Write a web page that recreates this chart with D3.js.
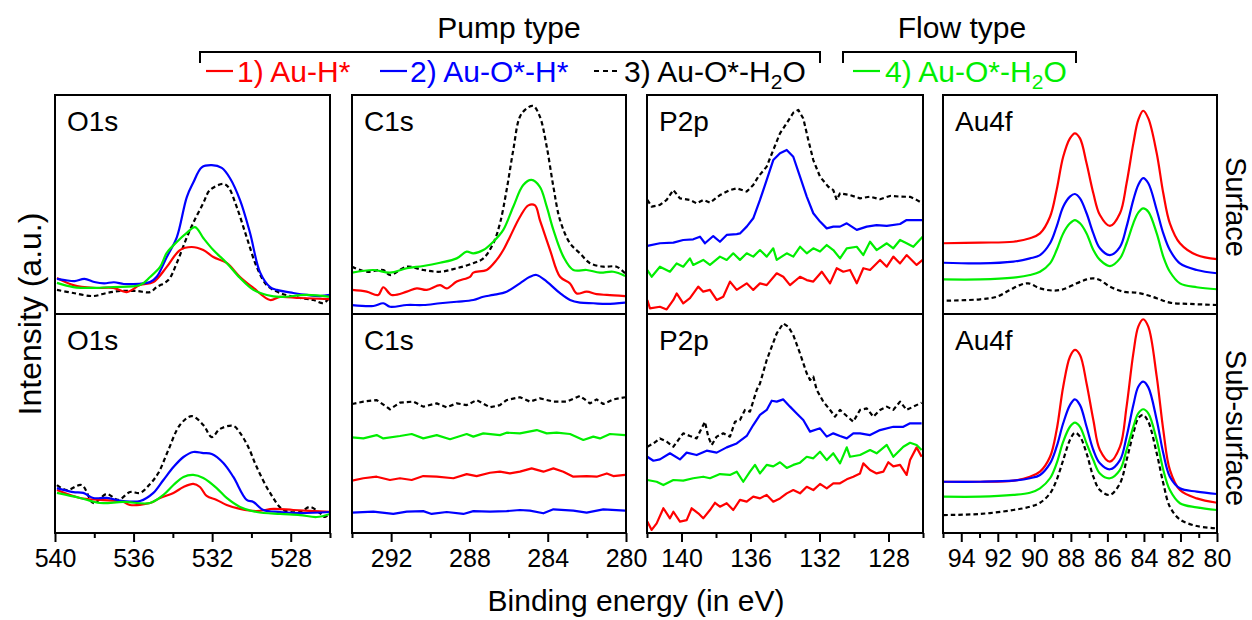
<!DOCTYPE html>
<html><head><meta charset="utf-8">
<script src="https://cdn.jsdelivr.net/npm/d3@7"></script>
<style>body{margin:0;background:#fff}svg{display:block}text{font-family:"Liberation Sans",Arial,Helvetica,sans-serif}</style>
</head><body><svg id="c" width="1252" height="620"></svg>
<script>
// ---------- DATA (binding energy eV, intensity a.u. 0-100 of panel) ----------
const panelNames = ["O1s","C1s","P2p","Au4f"];
const rowNames = ["Surface","Sub-surface"];
const seriesNames = ["1) Au-H*","2) Au-O*-H*","3) Au-O*-H2O","4) Au-O*-H2O"];
const o1sMajor=[540,536,532,528], o1sMinor=[538,534,530,526];
const c1sMajor=[292,288,284,280], c1sMinor=[294,290,286,282];
const p2pMajor=[140,136,132,128], p2pMinor=[142,138,134,130,126];
const au4fMajor=[94,92,90,88,86,84,82,80], au4fMinor=[95,93,91,89,87,85,83,81];

const O1s_S_red=[[539.9,16.4],[539.07,13.2],[538.05,11.9],[537.03,11.9],[536.35,10],[535.67,13.2],[534.99,14.6],[534.31,21.5],[533.64,29.2],[533.04,30.6],[532.45,29.2],[531.94,26],[531.26,23.3],[530.58,16.9],[529.9,11.9],[529.05,6.4],[528.54,7.8],[527.53,7.3],[526,6.8]];
const O1s_S_blue=[[539.9,16],[539.5,15.5],[539,15],[538.5,16],[538,14.6],[537.5,14],[537,14.5],[536.5,13.7],[536,13.7],[535.5,14],[535.16,14.6],[534.82,17],[534.31,26],[533.8,35],[533.29,53.4],[532.96,60],[532.53,67],[532.02,68],[531.51,66.7],[531.09,62],[530.58,52],[530.07,37],[529.56,19],[529.05,12.3],[528.71,11],[527.87,9.6],[527.18,8.7],[526.5,8.2],[526,8.7]];
const O1s_S_black=[[539.9,11],[539.07,9.6],[538.05,8.2],[537.37,9.6],[536.69,10.5],[535.84,10.5],[535.16,10],[534.82,12.3],[534.23,15.5],[533.8,23.3],[533.29,35],[532.96,41.6],[532.45,50.7],[532.11,56.6],[531.43,59.4],[531.18,58],[530.75,48.9],[530.24,35],[529.73,21.5],[529.22,13.2],[528.54,9.6],[527.53,7.3],[526.85,6.4],[526.34,5],[526,7.8]];
const O1s_S_green=[[539.9,14.2],[539.07,12.3],[538.05,11.9],[537.03,12.3],[535.67,13.2],[535.16,16.9],[534.65,21.5],[534.31,27.9],[533.8,32.9],[533.29,37],[532.87,39.7],[532.45,34.7],[531.94,29.2],[531.26,23.3],[530.58,16.4],[529.9,11],[529.22,8.7],[528.54,7.8],[527.18,8.7],[526,7.8]];

const O1s_B_red=[[539.9,19.6],[538.73,16],[537.71,15.1],[536.52,14.2],[536.18,12.8],[535.16,13.7],[534.65,16],[533.97,18.3],[533.46,21],[532.96,22.4],[532.62,21],[532.28,16.9],[531.77,15.1],[531.26,12.8],[530.58,11],[529.73,10],[528.88,11],[527.87,10.5],[526,9.6]];
const O1s_B_blue=[[539.9,20.5],[539.07,18.7],[538.56,18.3],[538.05,16],[537.37,16],[536.52,14.6],[535.67,14.6],[534.99,18.3],[534.48,24.2],[533.97,30.1],[533.46,34.7],[532.96,37],[532.45,36.5],[532.02,36.1],[531.43,32],[530.92,25.6],[530.24,15.1],[529.9,14.2],[529.39,10.5],[528.54,9.6],[527.53,9.1],[526,9.6]];
const O1s_B_black=[[539.9,21.9],[539.4,19.6],[538.64,21.9],[538.05,13.7],[537.37,17.8],[536.78,15.1],[536.18,18.7],[535.67,18.3],[535.16,22.4],[534.74,27.4],[534.23,37.9],[533.64,49.3],[533.04,53.4],[532.45,49.3],[532.02,43.8],[531.6,47.5],[530.92,48.9],[530.58,45.7],[530.16,39.3],[529.73,30.1],[529.05,18.3],[528.37,10.5],[527.53,9.6],[527.02,11.9],[526.51,9.1],[526.25,7.3],[526,9.6]];
const O1s_B_green=[[539.9,18.3],[538.73,16],[537.71,13.7],[536.52,14.2],[535.16,13.7],[534.48,17.4],[533.97,21.9],[533.46,25.6],[532.96,26.5],[532.45,25.1],[531.77,20.5],[531.26,16],[530.58,11.9],[529.73,9.6],[528.54,8.7],[527.53,8.2],[526.68,7.3],[526,8.7]];

const C1s_S_red=[[294,11],[293.25,10.2],[292.66,8.7],[292.4,12.2],[291.98,8.7],[291.2,10.2],[290.69,11.7],[290.18,11],[289.5,13.2],[289.16,11.7],[288.65,14.8],[287.97,17],[287.8,18.9],[287.12,20.1],[286.61,24.7],[286.27,29.2],[285.93,35.2],[285.42,44.3],[284.99,49.6],[284.65,49.6],[284.4,42.9],[283.88,29.2],[283.37,17],[282.86,13.9],[282.52,9.4],[282.01,10.2],[281.5,9.1],[280.98,8.7],[280.05,8.2]];
const C1s_S_blue=[[294,4.1],[292.91,3.65],[292.4,4.9],[292.06,3.3],[291.2,4.1],[290.36,4.1],[289.5,4.9],[288.65,5.6],[287.8,6.4],[287.29,7.9],[286.78,8.7],[286.1,10.2],[285.42,14],[284.91,17],[284.57,17.8],[284.05,14.8],[283.37,9.5],[282.86,6.4],[282.35,5.2],[281.67,4.9],[280.98,4.6],[280.05,5.2]];
const C1s_S_black=[[294,21.6],[293.25,19.3],[292.4,20.1],[292.06,17.8],[291.2,21.6],[290.36,20.1],[289.5,19.3],[288.65,20.9],[287.8,23.2],[287.29,25.4],[286.78,32.3],[286.44,41.4],[286.1,56.6],[285.76,74.9],[285.42,90.1],[285.07,93.9],[284.74,95],[284.4,90.1],[284.05,76.4],[283.71,58.1],[283.37,42.9],[282.86,32.3],[282.35,27.7],[281.84,23.2],[281.16,21.6],[280.48,21.6],[280.05,18.6]];
const C1s_S_green=[[294,18.9],[292.91,20.1],[292.06,18.9],[291.2,20.9],[290.36,21.9],[289.5,23.4],[288.65,25.4],[288.14,28.5],[287.8,27.7],[287.29,29.2],[286.78,33],[286.27,38.4],[285.76,49],[285.25,58.9],[284.83,61.2],[284.4,58.1],[284.05,49],[283.71,38.4],[283.2,26.2],[282.69,20.1],[282.01,20.1],[281.33,18.9],[280.65,19.3],[280.05,17.4]];

const C1s_B_red=[[294,23.9],[293.42,25],[292.74,25.7],[292.06,24.2],[291.55,25],[290.95,24.2],[290.36,26],[289.67,25.7],[288.82,25],[288.14,26.9],[287.63,26],[286.95,27.5],[286.44,28],[285.93,27.2],[285.42,28],[284.82,29.5],[284.22,28],[283.71,29.5],[283.2,28],[282.69,25.7],[282.01,26],[281.5,25.7],[280.98,27.2],[280.65,26],[280.05,26.5]];
const C1s_B_blue=[[294,9.3],[292.91,9.75],[291.89,8.7],[291.2,9.75],[290.36,10],[289.93,8.7],[289.16,9.6],[288.31,8.7],[287.8,10],[286.95,9.75],[286.1,10],[285.42,10.5],[284.91,10.2],[284.22,9],[283.71,10.8],[282.69,10.2],[282.01,9.3],[281.16,10.8],[280.05,10.2]];
const C1s_B_black=[[294,58.9],[293.42,60],[292.74,60.7],[292.06,56.5],[291.55,59.5],[290.87,60],[290.36,57.7],[289.67,59.2],[289.16,57.4],[288.65,59.2],[288.14,58.4],[287.63,60.7],[286.95,57.4],[286.44,58.4],[286.1,60.7],[285.42,62],[284.91,60],[284.4,61.5],[283.71,60],[283.03,60],[282.35,62.6],[281.84,59.2],[281.5,61],[281.16,58.9],[280.65,61],[280.05,62]];
const C1s_B_green=[[294,43.7],[293.42,43.2],[292.74,44.7],[292.4,43.2],[291.55,44.3],[290.95,45.2],[290.36,43.2],[289.67,44.7],[288.99,42.8],[288.14,45.2],[287.8,44],[287.29,45.5],[286.44,44.7],[286.1,45.8],[285.42,45.5],[284.56,47],[284.05,45.5],[283.54,45.8],[282.86,45.2],[282.18,42.5],[281.67,44],[281.33,43.2],[280.82,45.2],[280.05,44.7]];

const P2p_S_red=[[141.98,6.4],[141.83,2.6],[141.25,3.3],[140.86,2.1],[140.47,6.4],[140.28,9.4],[139.9,4.9],[139.51,7.2],[139.03,12.5],[138.74,10.2],[138.35,11],[137.96,6.4],[137.58,7.9],[137.19,14.8],[136.8,11],[136.22,14],[135.84,11],[135.45,14],[135.06,13.2],[134.48,18.6],[134.1,17],[133.71,13.2],[133.13,17],[132.74,15.5],[132.36,14.8],[131.87,19.3],[131.39,14],[131,20.9],[130.62,19.3],[130.23,20.1],[129.84,14],[129.46,20.9],[129.07,20.1],[128.49,24.7],[128.1,21.6],[127.72,26.2],[127.33,23.1],[126.95,26.9],[126.37,22.4],[126.02,24.7]];
const P2p_S_blue=[[141.98,31.1],[141.25,32.3],[140.47,32.6],[139.9,33.8],[139.32,34.1],[138.93,35.3],[138.64,32.3],[138.16,35.6],[137.77,33],[137.38,36.1],[136.8,36.5],[136.61,36.8],[136.22,39.9],[135.84,43.7],[135.45,52.1],[135.06,61.2],[134.68,70.3],[134.29,73.4],[133.9,74.9],[133.52,71.8],[133.13,62.7],[132.74,53.6],[132.36,46],[131.97,42.2],[131.58,39.1],[131.2,39.9],[130.81,39.9],[130.42,41.4],[129.84,38.4],[129.26,39.9],[128.69,40.6],[128.1,40.2],[127.33,41.1],[126.95,42.9],[126.02,42.9]];
const P2p_S_black=[[141.98,52.1],[141.73,49],[141.25,49.8],[140.86,52.1],[140.47,56.6],[140.09,52.8],[139.51,52.1],[139.12,50.5],[138.74,52.1],[138.35,50.8],[137.77,54.3],[137.19,56.6],[136.8,57.4],[136.22,55.9],[135.84,58.9],[135.55,62.7],[135.06,67.3],[134.68,74.9],[134.29,82.5],[133.9,87.1],[133.52,91.9],[133.23,93.2],[132.94,89.3],[132.65,79.5],[132.36,70.3],[131.97,62.7],[131.49,58.1],[131.2,56.6],[131,52.1],[130.81,55.1],[130.23,54.3],[129.65,52.8],[129.07,53.6],[128.49,52.4],[127.91,53.9],[127.33,53.6],[126.75,53.5],[126.37,52.1],[126.02,50.5]];
const P2p_S_green=[[141.98,20.1],[141.73,17],[141.25,21.6],[140.67,19.3],[140.28,23.1],[139.9,21.6],[139.51,25.4],[139.32,22.4],[138.74,24.7],[138.35,22.4],[137.77,26.2],[137.38,24.7],[137,27.7],[136.61,24.7],[136.22,27.7],[135.84,26.2],[135.45,29.2],[135.06,26.2],[134.68,30],[134.48,24.7],[133.9,27.7],[133.52,26.2],[133.13,30.7],[132.74,27.7],[132.36,30],[131.97,28.5],[131.58,31.5],[131.2,29.2],[130.81,25.4],[130.42,30],[129.84,30.7],[129.46,26.9],[129.07,33],[128.69,29.2],[128.1,32.3],[127.72,30],[127.33,33.8],[126.95,32.3],[126.56,30.7],[126.02,35.3]];

const P2p_B_red=[[141.98,5.2],[141.73,1.4],[141.44,4.4],[141.05,11.3],[140.67,6.7],[140.47,9.7],[140.09,5.2],[139.7,5.9],[139.41,11.3],[139.03,9],[138.74,6.7],[138.35,10.5],[138.06,13.8],[137.77,12],[137.38,13.6],[137,10.5],[136.61,15.1],[136.22,14.3],[135.84,16.6],[135.45,15.8],[135.06,17.4],[134.68,14.3],[134.29,15.8],[133.9,18.1],[133.52,19.6],[133.13,18.1],[132.74,21.1],[132.36,19.6],[131.97,22.4],[131.58,20.4],[131.2,22.7],[130.81,22.7],[130.42,24.5],[130.04,25.7],[129.65,27.2],[129.46,31.8],[129.07,28.8],[128.69,27.2],[128.3,28],[128.01,32.3],[127.72,30.4],[127.33,31.1],[126.95,26.5],[126.75,33.3],[126.37,39.1],[126.08,34.8]];
const P2p_B_blue=[[141.98,34.8],[141.63,33],[141.25,33.6],[140.67,36.4],[140.09,33.6],[139.7,36.7],[139.12,35.6],[138.54,37.6],[137.96,36.7],[137.38,39.1],[136.8,40.9],[136.22,44.3],[135.84,49.3],[135.45,53.9],[135.06,56.2],[134.77,60.4],[134.48,60],[134.1,61],[133.71,57.7],[133.32,54.6],[132.94,51.6],[132.55,46.3],[131.97,47.8],[131.58,44],[131.2,45.5],[130.81,44.3],[130.42,43.2],[130.04,45.5],[129.65,45.5],[129.07,44.7],[128.49,47],[127.72,48.5],[127.14,48.5],[126.75,50.1],[126.08,50.1]];
const P2p_B_black=[[141.98,39.4],[141.63,40.9],[141.25,43.2],[140.86,41.7],[140.47,39.4],[140.18,42.5],[139.9,45.5],[139.51,44.3],[139.12,43.2],[138.93,46.3],[138.64,50.8],[138.45,44],[138.25,40.2],[137.96,44],[137.58,45.5],[137.19,44],[136.9,50.8],[136.61,51.6],[136.32,56.2],[136.03,55.4],[135.64,65.3],[135.45,68.3],[135.06,79],[134.77,85.1],[134.48,91.2],[134.1,95.7],[133.81,94.2],[133.52,90.4],[133.13,82],[132.74,72.9],[132.55,69.9],[132.36,71.4],[132.16,65.3],[131.78,60],[131.39,56.2],[131.1,53.1],[130.81,56.2],[130.42,53.4],[130.04,50.8],[129.65,56.2],[129.26,56.9],[128.88,53.1],[128.49,56.2],[128.1,57.7],[127.72,56.2],[127.33,60],[126.95,56.2],[126.56,57.7],[126.08,59.5]];
const P2p_B_green=[[141.98,24.2],[141.44,23.4],[141.05,21.9],[140.47,24.2],[139.9,23.9],[139.32,25],[138.74,25.7],[138.35,25],[137.77,26.9],[137.19,26.5],[136.8,28],[136.42,23.4],[136.03,28],[135.74,31.1],[135.45,27.2],[135.06,31.1],[134.68,30.4],[134.29,32.3],[133.9,29.7],[133.52,31.1],[133.13,32.1],[132.74,34.8],[132.36,34.1],[131.97,37.1],[131.58,33.3],[131.2,36.4],[130.81,31.8],[130.42,39.1],[130.23,34.8],[129.65,35.6],[129.07,37.9],[128.69,36.4],[128.1,40.2],[127.72,34.8],[127.14,39.4],[126.75,41.2],[126.37,40.2],[126.08,37.9]];

const au4fE=[94.98,92.97,91.15,90.24,89.69,89.14,88.78,88.42,88.05,87.78,87.5,87.14,86.77,86.41,85.86,85.31,84.95,84.58,84.31,84.04,83.76,83.3,82.94,82.58,82.03,81.11,79.99];
const Au4f_S_red=[32.3,32.6,33,34.6,36.8,44.4,56.6,71.8,80.2,82.5,80.2,68.8,55.1,45.2,40.2,46,59.7,77.9,88.6,92.8,89.3,73.4,55.1,41.4,32.3,26.9,25];
const Au4f_S_blue=[23.4,23.1,23.9,25.4,26.9,32.3,39.9,49,53.6,54.8,52.8,46,36.8,30,26.9,30.7,39.9,52.1,58.9,62,59.7,47.5,36.8,29.2,23.1,20.1,18.6];
const Au4f_S_green=[15.8,15.8,16.6,17.8,19.3,23.1,29.2,36.8,41.4,42.9,41.4,36.8,29.2,24.7,21.9,25.4,32.3,41.4,46.3,48.2,46.7,36.8,26.2,19.3,14,12.2,11.3];
const Au4f_S_black=[[94.8,6.1],[92.97,6.7],[92.06,7.9],[91.33,11],[90.79,13.2],[90.33,14],[89.69,11.7],[88.96,10.7],[88.42,11.3],[87.68,14],[87.14,15.8],[86.77,16.3],[86.41,15.5],[85.86,12.5],[85.13,10.2],[84.4,9.7],[83.85,8.7],[83.3,7.2],[82.58,5.2],[81.48,4.6],[79.99,4.1]];
const Au4f_B_red=[23.4,23.4,23.9,25.7,28,34.8,47,66.8,80.5,83.6,81.3,68.3,51.6,37.9,32.6,39.4,57.7,82,94.2,97.6,94.2,71.4,47,28.8,19.6,15.8,13.8];
const Au4f_B_blue=[23.4,23.4,23.9,25,26.5,31.8,39.4,50.1,58.4,61,58.4,48.5,37.9,31.8,29.1,33.3,44,58.4,66.8,69.1,66.5,51.6,36.4,25.7,20.4,18.9,17.8];
const Au4f_B_green=[16.6,16.6,17.4,18.4,20.4,25,31.8,41.7,48.5,50.4,48.5,40.9,33.3,27.2,25,28.8,37.9,48.5,54.6,56.5,54.6,42.5,28.8,19.6,13.6,11.7,10.5];
const Au4f_B_black=[8.2,8.7,10.5,12,13.8,18.1,24.2,33.3,42.5,45.8,44,36.4,25.7,19.6,17.4,22.7,33.3,45.5,52.4,53.9,50.8,36.4,22.7,12,6.2,3.2,2.1];

// ---------- BUILD ----------
const zipE = v => au4fE.map((e,i)=>[e,v[i]]);
const colors = {red:"#ff0000", blue:"#0000ff", black:"#000000", green:"#00ee00"};
const panels = [
  {col:0,row:0,smooth:true,label:"O1s",s:{black:O1s_S_black,red:O1s_S_red,blue:O1s_S_blue,green:O1s_S_green}},
  {col:1,row:0,smooth:true,label:"C1s",s:{black:C1s_S_black,red:C1s_S_red,blue:C1s_S_blue,green:C1s_S_green}},
  {col:2,row:0,smooth:false,label:"P2p",s:{black:P2p_S_black,red:P2p_S_red,blue:P2p_S_blue,green:P2p_S_green}},
  {col:3,row:0,smooth:true,label:"Au4f",s:{black:Au4f_S_black,red:zipE(Au4f_S_red),blue:zipE(Au4f_S_blue),green:zipE(Au4f_S_green)}},
  {col:0,row:1,smooth:true,label:"O1s",s:{black:O1s_B_black,red:O1s_B_red,blue:O1s_B_blue,green:O1s_B_green}},
  {col:1,row:1,smooth:false,label:"C1s",s:{black:C1s_B_black,red:C1s_B_red,blue:C1s_B_blue,green:C1s_B_green}},
  {col:2,row:1,smooth:false,label:"P2p",s:{black:P2p_B_black,red:P2p_B_red,blue:P2p_B_blue,green:P2p_B_green}},
  {col:3,row:1,smooth:true,label:"Au4f",s:{black:zipE(Au4f_B_black),red:zipE(Au4f_B_red),blue:zipE(Au4f_B_blue),green:zipE(Au4f_B_green)}}
];
const colX=[[55,330],[352,626],[647,923],[943,1217]];
const rowY=[[95,314],[314,533]];
const domains=[[540,526],[294,280],[142,126],[95,80]];
const majors=[o1sMajor,c1sMajor,p2pMajor,au4fMajor];
const minors=[o1sMinor,c1sMinor,p2pMinor,au4fMinor];

const svg=d3.select("#c");
svg.append("rect").attr("width",1252).attr("height",620).attr("fill","#fff");
const defs=svg.append("defs");

panels.forEach((p,i)=>{
  const [x0,x1]=colX[p.col],[y0,y1]=rowY[p.row];
  const x=d3.scaleLinear().domain(domains[p.col]).range([x0,x1]);
  const y=d3.scaleLinear().domain([0,100]).range([y1,y0]);
  defs.append("clipPath").attr("id","cp"+i).append("rect").attr("x",x0).attr("y",y0).attr("width",x1-x0).attr("height",y1-y0);
  const g=svg.append("g");
  const line=d3.line().x(d=>x(d[0])).y(d=>y(d[1])).curve(p.smooth?d3.curveCatmullRom.alpha(0.5):d3.curveLinear);
  const lg=g.append("g").attr("clip-path",`url(#cp${i})`);
  ["black","red","blue","green"].forEach(k=>{
    lg.append("path").datum(p.s[k]).attr("d",line).attr("fill","none")
      .attr("stroke",colors[k]).attr("stroke-width",2.2).attr("stroke-linejoin","round")
      .attr("stroke-dasharray",k==="black"?"4.5,3":null);
  });
  g.append("rect").attr("x",x0).attr("y",y0).attr("width",x1-x0).attr("height",y1-y0)
    .attr("fill","none").attr("stroke","#000").attr("stroke-width",2);
  g.append("text").attr("x",x0+12).attr("y",y0+36).attr("font-size",28).text(p.label);
  if(p.row===1){
    const ax=g.append("g").attr("transform",`translate(0,${y1})`)
      .call(d3.axisBottom(x).tickValues(majors[p.col]).tickSize(9).tickPadding(7).tickFormat(d3.format("d")));
    ax.select(".domain").remove();
    ax.attr("font-family",null);
    ax.selectAll("line").attr("stroke-width",2);
    ax.selectAll("text").attr("font-size",25).attr("fill","#000");
    const mx=g.append("g").attr("transform",`translate(0,${y1})`)
      .call(d3.axisBottom(x).tickValues(minors[p.col]).tickSize(5).tickFormat(""));
    mx.select(".domain").remove();
    mx.selectAll("line").attr("stroke-width",2);
  }
});

// titles & brackets
svg.append("text").attr("x",509).attr("y",38).attr("text-anchor","middle").attr("font-size",30).text("Pump type");
svg.append("text").attr("x",962).attr("y",38).attr("text-anchor","middle").attr("font-size",30).text("Flow type");
svg.append("path").attr("d","M200,63V52H820V63").attr("fill","none").attr("stroke","#000").attr("stroke-width",2);
svg.append("path").attr("d","M843,63V52H1076V63").attr("fill","none").attr("stroke","#000").attr("stroke-width",2);

// legend
const leg=[{k:"red",lx:206,tx:237},{k:"blue",lx:380,tx:410},{k:"black",lx:594,tx:624},{k:"green",lx:853,tx:885}];
leg.forEach((l,i)=>{
  svg.append("line").attr("x1",l.lx).attr("x2",l.lx+27).attr("y1",71).attr("y2",71)
    .attr("stroke",colors[l.k]).attr("stroke-width",2.2).attr("stroke-dasharray",l.k==="black"?"5,4":null);
  const t=svg.append("text").attr("x",l.tx).attr("y",82).attr("font-size",30).attr("fill",colors[l.k]);
  const name=seriesNames[i];
  const m=name.match(/^(.*H)2O$/);
  if(m){
    t.append("tspan").text(m[1]);
    t.append("tspan").attr("font-size",21).attr("dy",7).text("2");
    t.append("tspan").attr("dy",-7).text("O");
  } else t.text(name);
});

// axis titles
svg.append("text").attr("x",636).attr("y",611).attr("text-anchor","middle").attr("font-size",30).text("Binding energy (in eV)");
svg.append("text").attr("transform","translate(41,314) rotate(-90)").attr("text-anchor","middle").attr("font-size",32).text("Intensity (a.u.)");
svg.append("text").attr("transform","translate(1226,207) rotate(90)").attr("text-anchor","middle").attr("font-size",29).text(rowNames[0]);
svg.append("text").attr("transform","translate(1226,428) rotate(90)").attr("text-anchor","middle").attr("font-size",29).text(rowNames[1]);
</script></body></html>
